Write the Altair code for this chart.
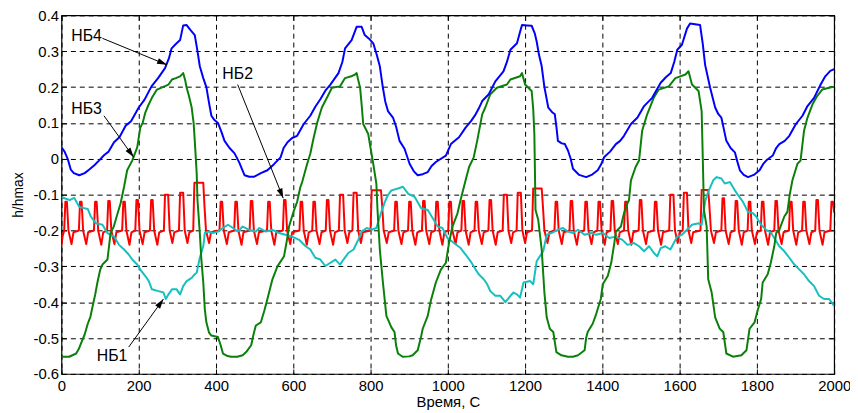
import math
import altair as alt
import pandas as pd

# ---------------- data ----------------
X_TICKS = [0, 200, 400, 600, 800, 1000, 1200, 1400, 1600, 1800, 2000]
Y_TICKS = [-0.6, -0.5, -0.4, -0.3, -0.2, -0.1, 0.0, 0.1, 0.2, 0.3, 0.4]

# НБ4 (blue)
NB4 = [(0,0.032),(8,0.02),(16,0.0),(24,-0.03),(32,-0.04),(46,-0.046),(60,-0.04),(72,-0.03),(85,-0.018),
       (97,-0.005),(110,0.01),(122,0.02),(136,0.046),(150,0.06),(166,0.092),(180,0.105),(200,0.143),(215,0.165),
       (233,0.202),(250,0.225),(268,0.253),(278,0.28),(285,0.308),(296,0.32),(307,0.331),(315,0.372),(324,0.373),
       (333,0.36),(345,0.345),(352,0.3),(358,0.258),(367,0.225),(375,0.2),(382,0.155),(388,0.12),(396,0.108),
       (405,0.1),(414,0.075),(422,0.05),(435,0.03),(448,0.015),(460,-0.01),(474,-0.046),(486,-0.05),(499,-0.05),
       (516,-0.04),(533,-0.032),(550,-0.015),(567,0.004),(575,0.03),(585,0.046),(597,0.058),(610,0.064),(627,0.097),
       (644,0.12),(657,0.145),(670,0.166),(683,0.19),(696,0.207),(717,0.239),(727,0.27),(734,0.308),(751,0.331),
       (764,0.368),(777,0.368),(785,0.345),(796,0.335),(807,0.322),(816,0.29),(824,0.258),(832,0.198),(838,0.16),
       (845,0.133),(858,0.115),(866,0.09),(875,0.05),(888,0.028),(901,-0.014),(912,-0.035),(922,-0.046),(935,-0.043),
       (948,-0.037),(958,-0.02),(969,-0.009),(982,0.0),(995,0.009),(1008,0.041),(1018,0.05),(1029,0.06),(1046,0.087),
       (1060,0.105),(1072,0.124),(1080,0.14),(1089,0.161),(1106,0.18),(1123,0.216),(1144,0.244),(1153,0.27),
       (1162,0.304),(1179,0.322),(1186,0.35),(1192,0.373),(1205,0.372),(1217,0.371),(1225,0.35),(1230,0.327),
       (1236,0.29),(1243,0.258),(1250,0.2),(1260,0.143),(1270,0.13),(1277,0.124),(1281,0.09),(1285,0.05),
       (1295,0.043),(1303,0.041),(1311,0.023),(1318,0.0),(1324,-0.028),(1340,-0.045),(1358,-0.051),(1372,-0.045),
       (1388,-0.032),(1397,-0.015),(1405,0.005),(1420,0.02),(1435,0.041),(1446,0.05),(1456,0.064),(1474,0.097),
       (1491,0.115),(1508,0.147),(1520,0.16),(1529,0.17),(1551,0.212),(1565,0.228),(1577,0.239),(1586,0.27),
       (1594,0.304),(1606,0.318),(1619,0.363),(1627,0.377),(1640,0.375),(1653,0.373),(1660,0.32),(1666,0.262),
       (1679,0.198),(1692,0.143),(1700,0.125),(1708,0.115),(1715,0.08),(1721,0.05),(1732,0.03),(1743,0.018),
       (1750,-0.01),(1756,-0.032),(1766,-0.045),(1777,-0.051),(1792,-0.045),(1807,-0.032),(1816,-0.015),
       (1824,-0.005),(1841,0.009),(1850,0.03),(1858,0.041),(1872,0.05),(1884,0.064),(1901,0.097),(1918,0.12),
       (1931,0.147),(1948,0.17),(1965,0.207),(1977,0.23),(1990,0.245),(2000,0.25)]

# НБ3 (green)
NB3 = [(0,-0.552),(20,-0.552),(38,-0.543),(45,-0.53),(50,-0.516),(60,-0.49),(68,-0.46),(75,-0.44),(80,-0.414),
       (87,-0.38),(93,-0.345),(100,-0.31),(106,-0.295),(119,-0.281),(127,-0.207),(135,-0.19),(144,-0.157),
       (153,-0.124),(162,-0.078),(170,-0.032),(183,-0.005),(196,0.032),(204,0.087),(210,0.1),(217,0.129),
       (225,0.15),(234,0.17),(247,0.193),(262,0.2),(277,0.207),(286,0.221),(296,0.225),(307,0.23),(315,0.239),
       (320,0.22),(324,0.198),(330,0.175),(337,0.143),(342,0.1),(345,0.05),(350,-0.041),(352,-0.115),(355,-0.16),
       (358,-0.207),(362,-0.28),(367,-0.345),(371,-0.42),(375,-0.456),(382,-0.485),(388,-0.493),(405,-0.497),
       (412,-0.52),(418,-0.543),(430,-0.55),(439,-0.552),(455,-0.552),(469,-0.548),(478,-0.539),(491,-0.52),
       (497,-0.49),(503,-0.465),(516,-0.456),(525,-0.424),(533,-0.391),(546,-0.336),(559,-0.3),(576,-0.272),
       (583,-0.23),(589,-0.189),(602,-0.143),(610,-0.12),(618,-0.08),(623,-0.065),(636,-0.014),(644,0.014),
       (653,0.06),(662,0.101),(674,0.143),(687,0.17),(700,0.198),(721,0.202),(734,0.225),(750,0.23),(760,0.235),
       (764,0.239),(768,0.22),(773,0.198),(777,0.15),(781,0.097),(794,0.069),(800,0.03),(807,-0.014),(815,-0.069),
       (818,-0.143),(824,-0.253),(832,-0.345),(841,-0.438),(854,-0.47),(862,-0.483),(866,-0.52),(871,-0.543),
       (883,-0.552),(900,-0.551),(909,-0.548),(922,-0.534),(930,-0.5),(935,-0.474),(948,-0.438),(956,-0.396),
       (969,-0.345),(982,-0.309),(995,-0.29),(1003,-0.235),(1012,-0.189),(1025,-0.152),(1033,-0.115),(1046,-0.06),
       (1055,-0.023),(1067,0.004),(1076,0.05),(1089,0.124),(1097,0.143),(1110,0.18),(1127,0.198),(1153,0.207),
       (1162,0.221),(1187,0.23),(1192,0.239),(1200,0.207),(1217,0.189),(1221,0.14),(1224,0.069),(1227,-0.143),
       (1234,-0.17),(1243,-0.253),(1250,-0.373),(1256,-0.442),(1264,-0.474),(1273,-0.483),(1281,-0.539),
       (1294,-0.548),(1311,-0.552),(1324,-0.552),(1337,-0.548),(1354,-0.534),(1358,-0.5),(1362,-0.483),
       (1375,-0.46),(1384,-0.433),(1396,-0.391),(1401,-0.35),(1414,-0.327),(1423,-0.29),(1431,-0.235),
       (1435,-0.203),(1448,-0.189),(1456,-0.152),(1465,-0.124),(1469,-0.115),(1474,-0.06),(1486,-0.023),
       (1495,-0.005),(1503,0.078),(1516,0.124),(1533,0.17),(1546,0.193),(1572,0.202),(1589,0.225),(1615,0.235),
       (1623,0.244),(1632,0.207),(1649,0.189),(1657,0.133),(1660,0.0),(1663,-0.143),(1670,-0.189),(1674,-0.336),
       (1683,-0.373),(1692,-0.442),(1704,-0.474),(1713,-0.483),(1721,-0.543),(1738,-0.552),(1760,-0.548),
       (1773,-0.534),(1781,-0.474),(1794,-0.456),(1803,-0.419),(1811,-0.391),(1815,-0.345),(1828,-0.322),
       (1836,-0.29),(1845,-0.244),(1850,-0.207),(1858,-0.198),(1871,-0.161),(1879,-0.148),(1885,-0.1),
       (1892,-0.06),(1905,-0.014),(1913,-0.005),(1922,0.078),(1931,0.115),(1944,0.152),(1956,0.175),
       (1969,0.193),(1995,0.2),(2000,0.2)]

# НБ2 (red)
NB2 = [(0,-0.24),(3,-0.215),
       (7,-0.2),(10,-0.12),(14,-0.12),(18,-0.2),(26,-0.238),(31,-0.205),
       (45,-0.2),(48,-0.12),(52,-0.12),(56,-0.2),(64,-0.238),(69,-0.205),
       (84,-0.2),(87,-0.12),(91,-0.12),(95,-0.2),(103,-0.24),(108,-0.205),
       (118,-0.2),(121,-0.118),(125,-0.118),(129,-0.2),(137,-0.238),(142,-0.205),
       (157,-0.2),(160,-0.12),(164,-0.12),(168,-0.2),(176,-0.24),(181,-0.205),
       (191,-0.2),(194,-0.115),(198,-0.115),(202,-0.2),(210,-0.238),(215,-0.205),
       (229,-0.2),(232,-0.115),(236,-0.115),(240,-0.2),(248,-0.24),(253,-0.205),
       (265,-0.2),(268,-0.1),(276,-0.1),(280,-0.2),(287,-0.235),(292,-0.205),
       (304,-0.2),(307,-0.095),(315,-0.095),(319,-0.2),(326,-0.235),(331,-0.205),
       (341,-0.2),(344,-0.067),(367,-0.067),(370,-0.13),(374,-0.2),(382,-0.235),(387,-0.205),
       (409,-0.2),(412,-0.12),(416,-0.12),(420,-0.2),(428,-0.238),(433,-0.205),
       (447,-0.2),(450,-0.12),(454,-0.12),(458,-0.2),(466,-0.24),(471,-0.205),
       (487,-0.2),(490,-0.118),(494,-0.118),(498,-0.2),(506,-0.238),(511,-0.205),
       (532,-0.2),(535,-0.12),(539,-0.12),(543,-0.2),(551,-0.24),(556,-0.205),
       (573,-0.2),(576,-0.115),(580,-0.115),(584,-0.2),(592,-0.238),(597,-0.205),
       (616,-0.2),(619,-0.12),(623,-0.12),(627,-0.2),(635,-0.24),(640,-0.205),
       (649,-0.2),(652,-0.12),(656,-0.12),(660,-0.2),(668,-0.238),(673,-0.205),
       (684,-0.2),(687,-0.115),(691,-0.115),(695,-0.2),(703,-0.24),(708,-0.205),
       (718,-0.2),(721,-0.1),(729,-0.1),(733,-0.2),(740,-0.235),(745,-0.205),
       (753,-0.2),(756,-0.095),(764,-0.095),(768,-0.2),(775,-0.235),(780,-0.205),
       (800,-0.2),(803,-0.088),(827,-0.088),(830,-0.13),(834,-0.2),(842,-0.235),(847,-0.205),
       (861,-0.2),(864,-0.12),(868,-0.12),(872,-0.2),(880,-0.238),(885,-0.205),
       (897,-0.2),(900,-0.12),(904,-0.12),(908,-0.2),(916,-0.24),(921,-0.205),
       (933,-0.2),(936,-0.118),(940,-0.118),(944,-0.2),(952,-0.238),(957,-0.205),
       (967,-0.2),(970,-0.12),(974,-0.12),(978,-0.2),(986,-0.24),(991,-0.205),
       (1001,-0.2),(1004,-0.12),(1008,-0.12),(1012,-0.2),(1020,-0.238),(1025,-0.205),
       (1035,-0.2),(1038,-0.118),(1042,-0.118),(1046,-0.2),(1054,-0.24),(1059,-0.205),
       (1069,-0.2),(1072,-0.12),(1076,-0.12),(1080,-0.2),(1088,-0.238),(1093,-0.205),
       (1105,-0.2),(1108,-0.115),(1112,-0.115),(1116,-0.2),(1124,-0.24),(1129,-0.205),
       (1142,-0.2),(1145,-0.1),(1153,-0.1),(1157,-0.2),(1164,-0.235),(1169,-0.205),
       (1178,-0.2),(1181,-0.095),(1189,-0.095),(1193,-0.2),(1200,-0.235),(1205,-0.205),
       (1218,-0.2),(1221,-0.083),(1243,-0.083),(1246,-0.13),(1250,-0.2),(1258,-0.235),(1263,-0.205),
       (1276,-0.2),(1279,-0.12),(1283,-0.12),(1287,-0.2),(1295,-0.238),(1300,-0.205),
       (1315,-0.2),(1318,-0.118),(1322,-0.118),(1326,-0.2),(1334,-0.24),(1339,-0.205),
       (1353,-0.2),(1356,-0.12),(1360,-0.12),(1364,-0.2),(1372,-0.238),(1377,-0.205),
       (1387,-0.2),(1390,-0.12),(1394,-0.12),(1398,-0.2),(1406,-0.24),(1411,-0.205),
       (1421,-0.2),(1424,-0.118),(1428,-0.118),(1432,-0.2),(1440,-0.238),(1445,-0.205),
       (1456,-0.2),(1459,-0.12),(1463,-0.12),(1467,-0.2),(1475,-0.24),(1480,-0.205),
       (1494,-0.2),(1497,-0.115),(1501,-0.115),(1505,-0.2),(1513,-0.238),(1518,-0.205),
       (1533,-0.2),(1536,-0.12),(1540,-0.12),(1544,-0.2),(1552,-0.24),(1557,-0.205),
       (1573,-0.2),(1576,-0.1),(1584,-0.1),(1588,-0.2),(1595,-0.235),(1600,-0.205),
       (1608,-0.2),(1611,-0.095),(1619,-0.095),(1623,-0.2),(1630,-0.235),(1635,-0.205),
       (1654,-0.2),(1657,-0.087),(1674,-0.087),(1677,-0.13),(1681,-0.2),(1689,-0.235),(1694,-0.205),
       (1708,-0.2),(1711,-0.11),(1715,-0.11),(1719,-0.2),(1727,-0.238),(1732,-0.205),
       (1742,-0.2),(1745,-0.118),(1749,-0.118),(1753,-0.2),(1761,-0.24),(1766,-0.205),
       (1776,-0.2),(1779,-0.12),(1783,-0.12),(1787,-0.2),(1795,-0.238),(1800,-0.205),
       (1810,-0.2),(1813,-0.12),(1817,-0.12),(1821,-0.2),(1829,-0.24),(1834,-0.205),
       (1845,-0.2),(1848,-0.118),(1852,-0.118),(1856,-0.2),(1864,-0.238),(1869,-0.205),
       (1883,-0.2),(1886,-0.12),(1890,-0.12),(1894,-0.2),(1902,-0.24),(1907,-0.205),
       (1917,-0.2),(1920,-0.12),(1924,-0.12),(1928,-0.2),(1936,-0.238),(1941,-0.205),
       (1951,-0.2),(1954,-0.115),(1958,-0.115),(1962,-0.2),(1970,-0.24),(1975,-0.205),
       (1990,-0.2),(1993,-0.12),(1997,-0.12),(2000,-0.15)]

# НБ1 (cyan)
NB1 = [(0,-0.106),(8,-0.11),(21,-0.115),(33,-0.109),(46,-0.134),(59,-0.138),(68,-0.14),(76,-0.161),(89,-0.18),
       (106,-0.184),(119,-0.207),(136,-0.217),(149,-0.24),(162,-0.253),(174,-0.267),(183,-0.281),(196,-0.295),
       (204,-0.309),(217,-0.327),(226,-0.341),(234,-0.364),(251,-0.369),(264,-0.373),(270,-0.391),(277,-0.378),
       (286,-0.364),(298,-0.364),(307,-0.378),(315,-0.355),(324,-0.341),(337,-0.332),(345,-0.322),(350,-0.318),
       (358,-0.276),(367,-0.244),(371,-0.207),(380,-0.203),(392,-0.207),(405,-0.203),(418,-0.193),(431,-0.184),
       (444,-0.193),(456,-0.203),(469,-0.189),(486,-0.198),(503,-0.203),(512,-0.193),(529,-0.203),(546,-0.198),
       (563,-0.207),(580,-0.212),(597,-0.217),(615,-0.226),(632,-0.244),(644,-0.253),(657,-0.276),(670,-0.281),
       (683,-0.299),(696,-0.29),(709,-0.281),(721,-0.295),(730,-0.281),(743,-0.262),(756,-0.253),(768,-0.226),
       (777,-0.203),(790,-0.193),(803,-0.198),(815,-0.193),(828,-0.148),(837,-0.12),(845,-0.101),(854,-0.088),
       (871,-0.083),(884,-0.078),(897,-0.097),(914,-0.106),(931,-0.138),(948,-0.143),(961,-0.166),(974,-0.189),
       (986,-0.193),(999,-0.221),(1016,-0.235),(1033,-0.249),(1046,-0.267),(1059,-0.286),(1072,-0.309),
       (1080,-0.322),(1093,-0.336),(1102,-0.35),(1110,-0.369),(1123,-0.382),(1136,-0.382),(1149,-0.4),
       (1162,-0.382),(1170,-0.373),(1179,-0.378),(1187,-0.387),(1196,-0.345),(1213,-0.341),(1221,-0.35),
       (1230,-0.286),(1238,-0.272),(1247,-0.258),(1256,-0.212),(1268,-0.207),(1285,-0.198),(1298,-0.193),
       (1311,-0.203),(1324,-0.207),(1337,-0.198),(1354,-0.212),(1371,-0.207),(1384,-0.212),(1401,-0.207),
       (1418,-0.221),(1435,-0.217),(1452,-0.226),(1465,-0.24),(1482,-0.235),(1495,-0.244),(1508,-0.258),
       (1521,-0.244),(1533,-0.262),(1542,-0.272),(1551,-0.249),(1563,-0.244),(1576,-0.253),(1585,-0.235),
       (1594,-0.217),(1606,-0.212),(1619,-0.198),(1632,-0.184),(1649,-0.18),(1657,-0.184),(1666,-0.12),
       (1674,-0.092),(1687,-0.06),(1696,-0.051),(1708,-0.055),(1717,-0.069),(1730,-0.065),(1743,-0.088),
       (1751,-0.101),(1764,-0.12),(1777,-0.148),(1790,-0.152),(1798,-0.161),(1811,-0.184),(1824,-0.198),
       (1837,-0.207),(1845,-0.221),(1858,-0.244),(1871,-0.258),(1884,-0.276),(1897,-0.295),(1910,-0.309),
       (1922,-0.322),(1935,-0.341),(1948,-0.355),(1961,-0.382),(1974,-0.391),(1987,-0.391),(2000,-0.41)]

# annotations
LABELS = ["НБ4", "НБ3", "НБ2", "НБ1"]
LABEL_X = [65, 65, 456, 131]
LABEL_Y = [0.343, 0.140, 0.237, -0.550]
ARROW_X1 = [106, 110, 456, 174]
ARROW_Y1 = [0.336, 0.120, 0.207, -0.525]
ARROW_X2 = [273, 187, 574, 264]
ARROW_Y2 = [0.262, 0.004, -0.110, -0.391]

# ---------------- chart ----------------
W, H = 780, 362
FONT = "Liberation Sans"
xs = alt.Scale(domain=[0, 2000], nice=False, zero=False)
ys = alt.Scale(domain=[-0.6, 0.4], nice=False, zero=False)

x_axis = alt.Axis(values=X_TICKS, format="d", title="Время, С", grid=True, gridColor="#000", gridDash=[5, 4],
                  gridWidth=1, gridOpacity=1, ticks=False, domain=False, labelFont=FONT, labelFontSize=15,
                  labelColor="#000", labelPadding=5, labelFlush=False, labelOverlap=False,
                  titleFont=FONT, titleFontSize=15, titleFontWeight="normal", titleColor="#000", titlePadding=1)
y_axis = alt.Axis(values=Y_TICKS, title="h/hmax", grid=True, gridColor="#000", gridDash=[5, 4],
                  gridWidth=1, gridOpacity=1, ticks=False, domain=False, labelFont=FONT, labelFontSize=15,
                  labelColor="#000", labelPadding=3, labelFlush=False, labelOverlap=False,
                  labelExpr="datum.value == 0 ? '0' : (datum.value < 0 ? '-' : '') + format(abs(datum.value), '.1f')",
                  titleFont=FONT, titleFontSize=14, titleFontWeight="normal", titleColor="#000", titlePadding=8)


def series(pts, color, xa=None, ya=None):
    df = pd.DataFrame(pts, columns=["x", "y"])
    return alt.Chart(df).mark_line(color=color, strokeWidth=2, clip=True, strokeJoin="round").encode(
        x=alt.X("x:Q", scale=xs, axis=xa),
        y=alt.Y("y:Q", scale=ys, axis=ya),
    )


red = series(NB2, "#ff0000", x_axis, y_axis)
cyan = series(NB1, "#17bfbf")
green = series(NB3, "#0a800a")
blue = series(NB4, "#0000ff")

# inward tick marks on all four sides
tick_df = pd.DataFrame({"x": [0], "y": [0]})


def tick_axis(orient, vals):
    return alt.Axis(orient=orient, values=vals, offset=-5, tickSize=5, tickColor="#000", tickWidth=1,
                    labels=False, domain=False, grid=False, title=None)


ticks_a = alt.Chart(tick_df).mark_point(opacity=0).encode(
    x=alt.X("x:Q", scale=xs, axis=tick_axis("bottom", X_TICKS)),
    y=alt.Y("y:Q", scale=ys, axis=tick_axis("left", Y_TICKS)),
)
ticks_b = alt.Chart(tick_df).mark_point(opacity=0).encode(
    x=alt.X("x:Q", scale=xs, axis=tick_axis("top", X_TICKS)),
    y=alt.Y("y:Q", scale=ys, axis=tick_axis("right", Y_TICKS)),
)

# annotation arrows
sx, sy = W / 2000.0, H / 1.0
angles = []
for x1, y1, x2, y2 in zip(ARROW_X1, ARROW_Y1, ARROW_X2, ARROW_Y2):
    dx = (x2 - x1) * sx
    dy = -(y2 - y1) * sy
    angles.append(math.degrees(math.atan2(dx, -dy)) % 360)

ann = pd.DataFrame({"label": LABELS, "lx": LABEL_X, "ly": LABEL_Y,
                    "x1": ARROW_X1, "y1": ARROW_Y1, "x2": ARROW_X2, "y2": ARROW_Y2, "ang": angles})

shafts = alt.Chart(ann).mark_rule(color="#000", strokeWidth=1).encode(
    x=alt.X("x1:Q", scale=xs, axis=None), y=alt.Y("y1:Q", scale=ys, axis=None),
    x2="x2:Q", y2="y2:Q")
heads = alt.Chart(ann).mark_point(shape="M0,0L-0.3,1L0.3,1Z", size=400, filled=True, color="#000",
                                  opacity=1, strokeWidth=0).encode(
    x=alt.X("x2:Q", scale=xs, axis=None), y=alt.Y("y2:Q", scale=ys, axis=None),
    angle=alt.Angle("ang:Q", scale=None))
texts = alt.Chart(ann).mark_text(font=FONT, fontSize=16, color="#000", align="center",
                                 baseline="middle").encode(
    x=alt.X("lx:Q", scale=xs, axis=None), y=alt.Y("ly:Q", scale=ys, axis=None), text="label:N")

chart = alt.layer(red, cyan, green, blue, ticks_a, ticks_b, shafts, heads, texts).resolve_axis(
    x="independent", y="independent"
).properties(
    width=W, height=H,
    autosize=alt.AutoSizeParams(type="none"),
    padding={"left": 54, "top": 5.5, "right": 16, "bottom": 37},
    background="white",
).configure_view(stroke="#000", strokeWidth=1.2)

chart.save("out.html", embed_options={"renderer": "svg", "actions": False})
